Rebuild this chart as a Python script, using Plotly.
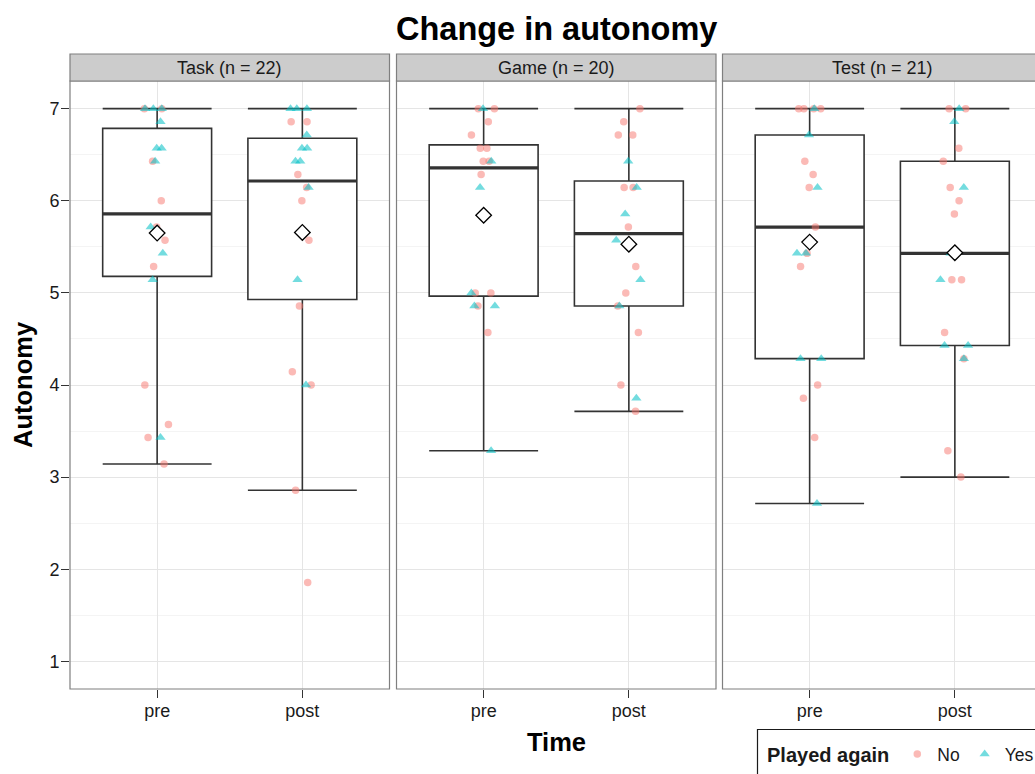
import numpy as np
import plotly.graph_objects as go

# ---- data: autonomy scores per condition, time point and "played again" group ----
facets = ["Task (n = 22)", "Game (n = 20)", "Test (n = 21)"]
times = ["pre", "post"]

task_pre_no = [7.0, 7.0, 6.429, 6.0, 5.714, 5.571, 5.286, 4.0, 3.571, 3.429, 3.143]
task_pre_yes = [7.0, 7.0, 7.0, 6.857, 6.571, 6.571, 6.429, 5.714, 5.429, 5.143, 3.429]
task_post_no = [6.857, 6.857, 6.286, 6.143, 6.0, 5.571, 4.857, 4.143, 4.0, 2.857, 1.857]
task_post_yes = [7.0, 7.0, 7.0, 6.714, 6.571, 6.571, 6.429, 6.429, 6.143, 5.143, 4.0]

game_pre_no = [7.0, 7.0, 6.857, 6.714, 6.571, 6.571, 6.429, 6.429, 6.286, 5.0, 5.0, 4.857, 4.571]
game_pre_yes = [7.0, 6.429, 6.143, 5.0, 4.857, 4.857, 3.286]
game_post_no = [7.0, 6.857, 6.714, 6.714, 6.143, 6.143, 5.714, 5.286, 5.0, 4.857, 4.571, 4.0, 3.714]
game_post_yes = [6.429, 6.143, 5.857, 5.571, 5.143, 4.857, 3.857]

test_pre_no = [7.0, 7.0, 7.0, 7.0, 6.429, 6.286, 6.143, 5.714, 5.429, 5.286, 4.0, 3.857, 3.429]
test_pre_yes = [7.0, 6.714, 6.143, 5.429, 5.429, 4.286, 4.286, 2.714]
test_post_no = [7.0, 7.0, 6.571, 6.429, 6.143, 6.0, 5.857, 5.143, 5.143, 4.571, 4.286, 3.286, 3.0]
test_post_yes = [7.0, 6.857, 6.143, 5.429, 5.143, 4.429, 4.429, 4.286]

y_ticks = [1, 2, 3, 4, 5, 6, 7]

panels = [
    {"pre": (task_pre_no, task_pre_yes), "post": (task_post_no, task_post_yes)},
    {"pre": (game_pre_no, game_pre_yes), "post": (game_post_no, game_post_yes)},
    {"pre": (test_pre_no, test_pre_yes), "post": (test_post_no, test_post_yes)},
]

# ---- styling ----
FONT = "Liberation Sans, Arial, Helvetica, sans-serif"
INK = "#333333"
TEXT = "#1a1a1a"
BORDER = "#7f7f7f"
NO_COLOR = "rgba(248,118,109,0.5)"
YES_COLOR = "rgba(0,191,196,0.55)"
W, H = 1035, 774
ML, MR, MT, MB = 70, 0, 81, 85
PW, PH = W - ML - MR, H - MT - MB

# panel pixel extents (the last facet runs past the right edge of the page)
panel_px = [(70, 389.5), (396.5, 716), (722.5, 1042)]
unit = (389.5 - 70) / 2.2


def px_to_paper_x(p):
    return (p - ML) / PW


def px_to_paper_y(p):
    return (H - MB - p) / PH


fig = go.Figure()
xpos = {"pre": 1, "post": 2}

for i, groups in enumerate(panels):
    xa = "x" if i == 0 else f"x{i + 1}"
    ya = "y" if i == 0 else f"y{i + 1}"
    means = []
    for t in times:
        no, yes = groups[t]
        vals = np.array(no + yes)
        q1, med, q3 = np.percentile(vals, [25, 50, 75])
        iqr = q3 - q1
        lo = vals[vals >= q1 - 1.5 * iqr].min()
        hi = vals[vals <= q3 + 1.5 * iqr].max()
        means.append(vals.mean())
        # box with whiskers and end caps
        fig.add_trace(go.Box(
            x=[xpos[t]], q1=[q1], median=[med], q3=[q3],
            lowerfence=[lo], upperfence=[hi], orientation="v",
            width=0.75, whiskerwidth=1, fillcolor="white",
            line=dict(color=INK, width=1.6), boxpoints=False,
            xaxis=xa, yaxis=ya, showlegend=False, hoverinfo="skip"))
        # heavier median bar
        fig.add_trace(go.Box(
            x=[xpos[t]], q1=[med], median=[med], q3=[med],
            lowerfence=[med], upperfence=[med], orientation="v",
            width=0.75, whiskerwidth=0, fillcolor="rgba(0,0,0,0)",
            line=dict(color=INK, width=3.2), boxpoints=False,
            xaxis=xa, yaxis=ya, showlegend=False, hoverinfo="skip"))
        # jittered observations
        for g_vals, sym, col, size in [(no, "circle", NO_COLOR, 7.5),
                                       (yes, "triangle-up", YES_COLOR, 9)]:
            fig.add_trace(go.Box(
                x=[xpos[t]] * len(g_vals), y=g_vals, boxpoints="all",
                jitter=0.32, pointpos=0, width=0.75, whiskerwidth=0,
                fillcolor="rgba(0,0,0,0)",
                line=dict(color="rgba(0,0,0,0)", width=0),
                marker=dict(symbol=sym, color=col, size=size),
                xaxis=xa, yaxis=ya, showlegend=False, hoverinfo="skip"))
    # group means
    fig.add_trace(go.Scatter(
        x=[xpos[t] for t in times], y=means, mode="markers",
        marker=dict(symbol="diamond", size=12, color="white",
                    line=dict(color="black", width=1.3)),
        xaxis=xa, yaxis=ya, showlegend=False, hoverinfo="skip"))

# legend entries
for name, sym, col, size in [("No", "circle", NO_COLOR, 7.5),
                             ("Yes", "triangle-up", YES_COLOR, 9)]:
    fig.add_trace(go.Scatter(x=[None], y=[None], mode="markers", name=name,
                             marker=dict(symbol=sym, color=col, size=size),
                             showlegend=True, hoverinfo="skip"))

layout = dict(
    width=W, height=H,
    margin=dict(l=ML, r=MR, t=MT, b=MB, autoexpand=False),
    paper_bgcolor="white", plot_bgcolor="white",
    boxmode="overlay",
    font=dict(family=FONT, color=TEXT),
    showlegend=True,
    legend=dict(
        orientation="h", x=px_to_paper_x(765), xanchor="left",
        y=px_to_paper_y(736), yanchor="top",
        bgcolor="rgba(0,0,0,0)", borderwidth=0,
        font=dict(family=FONT, size=17.5, color=TEXT),
        title=dict(text="Played again", side="left",
                   font=dict(family=FONT, size=20, color=TEXT, weight="bold")),
    ),
)

shapes = []
annotations = []
for i in range(3):
    sfx = "" if i == 0 else str(i + 1)
    x0p, x1p = panel_px[i]
    visible_right = min(x1p, W)
    d0 = px_to_paper_x(x0p)
    d1 = px_to_paper_x(visible_right)
    xmax = 0.4 + (visible_right - x0p) / unit
    layout[f"xaxis{sfx}"] = dict(
        domain=[d0, d1], range=[0.4, xmax], anchor=f"y{sfx}",
        tickmode="array", tickvals=[xpos[t] for t in times], ticktext=times,
        ticks="outside", ticklen=8, tickwidth=1.2, tickcolor=INK,
        ticklabelstandoff=-3,
        tickfont=dict(family=FONT, size=18, color=TEXT),
        showgrid=True, gridcolor="#e5e5e5", gridwidth=1,
        zeroline=False, showline=False, fixedrange=True)
    ydict = dict(
        range=[0.7, 7.3], anchor=f"x{sfx}", domain=[0, 1],
        tickmode="array", tickvals=y_ticks,
        showgrid=True, gridcolor="#e5e5e5", gridwidth=1,
        minor=dict(tickmode="array",
                   tickvals=[v + 0.5 for v in y_ticks[:-1]],
                   showgrid=True, gridcolor="#f4f4f4", gridwidth=1, ticks=""),
        zeroline=False, showline=False, fixedrange=True)
    if i == 0:
        ydict.update(ticks="outside", ticklen=8, tickwidth=1.2, tickcolor=INK,
                     ticklabelstandoff=-2,
                     tickfont=dict(family=FONT, size=18, color=TEXT))
    else:
        ydict.update(matches="y", showticklabels=False, ticks="")
    layout[f"yaxis{sfx}"] = ydict

    xr = f"x{sfx} domain"
    right = (x1p - x0p) / (visible_right - x0p)
    # panel border
    shapes.append(dict(type="rect", xref=xr, yref="paper", x0=0, x1=right,
                       y0=0, y1=1, line=dict(color=BORDER, width=1.2),
                       fillcolor="rgba(0,0,0,0)", layer="above"))
    # strip
    strip_top = px_to_paper_y(54)
    shapes.append(dict(type="rect", xref=xr, yref="paper", x0=0, x1=right,
                       y0=1, y1=strip_top, line=dict(color=BORDER, width=1.2),
                       fillcolor="#cccccc", layer="above"))
    annotations.append(dict(text=facets[i], xref=xr, yref="paper",
                            x=right / 2, y=(1 + strip_top) / 2,
                            xanchor="center", yanchor="middle", showarrow=False,
                            font=dict(family=FONT, size=18, color=TEXT)))

# legend frame
shapes.append(dict(type="rect", xref="paper", yref="paper",
                   x0=px_to_paper_x(757.5), x1=px_to_paper_x(1100),
                   y0=px_to_paper_y(729.5), y1=px_to_paper_y(820),
                   line=dict(color="#1a1a1a", width=1.2),
                   fillcolor="rgba(0,0,0,0)", layer="above"))

centre_x = px_to_paper_x((70 + 1042) / 2)
annotations += [
    dict(text="<b>Change in autonomy</b>", xref="paper", yref="paper",
         x=centre_x, y=px_to_paper_y(29), xanchor="center", yanchor="middle",
         showarrow=False, font=dict(family=FONT, size=32.5, color="black")),
    dict(text="<b>Time</b>", xref="paper", yref="paper",
         x=centre_x, y=px_to_paper_y(742), xanchor="center", yanchor="middle",
         showarrow=False, font=dict(family=FONT, size=25.5, color="black")),
    dict(text="<b>Autonomy</b>", xref="paper", yref="paper",
         x=px_to_paper_x(23), y=0.5, xanchor="center", yanchor="middle",
         textangle=-90, showarrow=False,
         font=dict(family=FONT, size=25.5, color="black")),
]

layout["shapes"] = shapes
layout["annotations"] = annotations
fig.update_layout(**layout)

fig.write_html("out.html")
